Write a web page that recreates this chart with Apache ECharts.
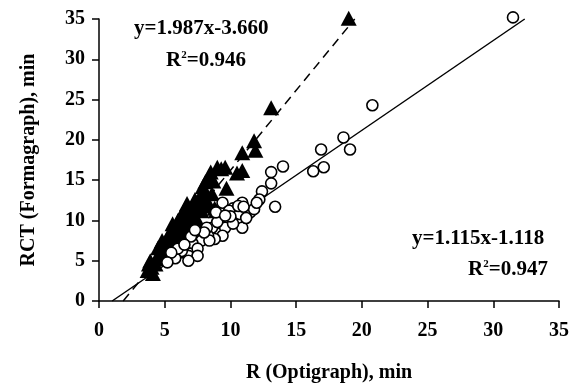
<!DOCTYPE html>
<html>
<head>
<meta charset="utf-8">
<script src="https://cdn.jsdelivr.net/npm/echarts@6/dist/echarts.min.js"></script>
<style>
  html, body { margin: 0; padding: 0; background: #fff; }
  #chart { width: 578px; height: 384px; }
</style>
</head>
<body>
<div id="chart"></div>
<script>
// Formagraph RCT vs Optigraph R, two sample groups
var circlePoints = [
  [31.5, 35.2], [20.8, 24.3], [18.6, 20.3], [19.1, 18.8], [16.9, 18.8], [17.1, 16.6],
  [16.3, 16.1], [14.0, 16.7], [13.1, 16.0], [13.1, 14.6], [12.4, 13.6], [12.2, 12.6],
  [13.4, 11.7], [10.9, 12.2], [11.5, 11.0], [10.2, 11.5], [9.4, 12.2], [10.5, 10.2],
  [10.9, 9.1], [9.6, 9.1], [9.4, 8.1], [8.8, 7.7], [9.2, 10.3], [9.9, 11.2],
  [10.7, 10.8], [10.6, 11.8], [10.2, 9.6], [8.6, 9.1], [8.3, 8.1], [7.8, 7.5],
  [7.1, 7.2], [7.5, 6.5], [6.8, 5.6], [7.5, 5.6], [6.8, 5.0], [6.3, 6.2],
  [8.4, 7.5], [8.2, 9.1], [5.8, 5.3], [6.0, 6.5], [7.0, 8.0], [8.0, 8.5],
  [9.0, 9.8], [11.2, 10.3], [11.8, 11.4], [10.0, 10.5], [6.5, 7.0], [5.5, 6.0],
  [7.3, 8.8], [8.9, 11.0], [9.6, 10.6], [11.0, 11.7], [12.0, 12.2], [5.2, 4.8]
];
var trianglePoints = [
  [19.0, 35.1], [13.1, 24.0], [11.8, 19.9], [10.9, 18.4], [11.9, 18.7], [9.3, 16.4],
  [10.9, 16.2], [10.5, 15.9], [9.0, 16.6], [8.4, 15.6], [8.7, 14.9], [8.6, 13.3],
  [8.9, 11.2], [8.2, 12.5], [8.8, 11.5], [7.8, 11.2], [7.5, 12.1], [6.7, 12.1],
  [7.1, 9.6], [5.6, 9.6], [5.2, 7.9], [4.5, 6.6], [3.9, 5.0], [4.1, 3.4],
  [3.7, 3.8], [7.0, 11.0], [6.2, 10.5], [6.0, 9.0], [5.8, 8.0], [4.8, 7.5],
  [4.6, 5.8], [5.0, 6.0], [5.5, 7.0], [6.5, 8.5], [7.5, 10.0], [6.8, 9.8],
  [8.0, 13.5], [7.9, 14.2], [6.4, 11.0], [4.3, 4.6], [5.3, 5.6], [6.1, 6.4],
  [6.6, 7.4], [7.2, 8.5], [5.9, 6.2], [4.9, 5.2], [6.3, 7.0], [8.3, 11.8],
  [7.6, 11.8], [9.7, 14.0], [4.4, 5.4], [5.1, 6.8], [5.7, 8.6], [6.0, 10.0],
  [6.9, 10.6], [7.3, 12.6], [7.7, 13.0], [8.1, 14.8], [5.4, 8.4], [4.7, 7.0],
  [6.4, 9.2], [7.0, 9.0], [6.2, 7.8], [5.6, 6.5], [4.0, 4.2], [3.8, 4.6],
  [8.5, 16.0], [9.6, 16.6], [7.4, 11.4], [6.6, 11.6]
];
// regression fits: [slope, intercept]
var fitTriangles = [1.987, -3.660];
var fitCircles = [1.115, -1.118];
var axisTicks = [0, 5, 10, 15, 20, 25, 30, 35];

function fitLine(fit, yTop) {
  var x0 = -fit[1] / fit[0];
  var x1 = (yTop - fit[1]) / fit[0];
  return [[x0, 0], [x1, yTop]];
}

var font = 'Liberation Serif';
var chart = echarts.init(document.getElementById('chart'));

var axisCommon = {
  type: 'value',
  min: axisTicks[0],
  max: axisTicks[axisTicks.length - 1],
  interval: 5,
  splitLine: { show: false },
  axisLine: { show: true, lineStyle: { color: '#000', width: 1.5 } },
  axisTick: { show: true, inside: false, length: 7, lineStyle: { color: '#000', width: 1.5 } },
  axisLabel: { color: '#000', fontFamily: font, fontSize: 20, fontWeight: 'bold' },
  nameLocation: 'middle',
  nameTextStyle: { color: '#000', fontFamily: font, fontSize: 20, fontWeight: 'bold' }
};

var option = {
  backgroundColor: '#fff',
  animation: false,
  grid: { left: 99, right: 19, top: 19, bottom: 83, outerBoundsMode: 'none', containLabel: false },
  xAxis: Object.assign({}, axisCommon, {
    name: 'R (Optigraph), min',
    nameGap: 62,
    axisLabel: Object.assign({}, axisCommon.axisLabel, { margin: 20 })
  }),
  yAxis: Object.assign({}, axisCommon, {
    name: 'RCT (Formagraph), min',
    nameGap: 60,
    axisLabel: Object.assign({}, axisCommon.axisLabel, { margin: 14 })
  }),
  series: [
    {
      type: 'line',
      data: fitLine(fitCircles, 35),
      showSymbol: false,
      clip: false,
      lineStyle: { color: '#000', width: 1.5 },
      z: 1
    },
    {
      type: 'line',
      data: fitLine(fitTriangles, 35),
      showSymbol: false,
      clip: false,
      lineStyle: { color: '#000', width: 1.5, type: [9, 6] },
      z: 1
    },
    {
      type: 'scatter',
      data: trianglePoints,
      symbol: 'triangle',
      symbolSize: [16, 15],
      clip: false,
      itemStyle: { color: '#000', opacity: 1 },
      z: 2
    },
    {
      type: 'scatter',
      data: circlePoints,
      symbol: 'circle',
      symbolSize: 11,
      clip: false,
      itemStyle: { color: '#fff', borderColor: '#000', borderWidth: 1.6, opacity: 1 },
      z: 3
    }
  ],
  graphic: [
    {
      type: 'text', left: 134, top: 18,
      style: { text: 'y=1.987x-3.660', font: 'bold 21px "Liberation Serif"', fill: '#000' }
    },
    {
      type: 'text', left: 166, top: 50,
      style: {
        text: '{a|R}{s|2}{a|=0.946}',
        rich: {
          a: { fontFamily: font, fontSize: 21, fontWeight: 'bold', fill: '#000' },
          s: { fontFamily: font, fontSize: 11, fontWeight: 'bold', fill: '#000', verticalAlign: 'top', padding: [0, 0, 8, 0] }
        }
      }
    },
    {
      type: 'text', left: 412, top: 228,
      style: { text: 'y=1.115x-1.118', font: 'bold 21px "Liberation Serif"', fill: '#000' }
    },
    {
      type: 'text', left: 468, top: 259,
      style: {
        text: '{a|R}{s|2}{a|=0.947}',
        rich: {
          a: { fontFamily: font, fontSize: 21, fontWeight: 'bold', fill: '#000' },
          s: { fontFamily: font, fontSize: 11, fontWeight: 'bold', fill: '#000', verticalAlign: 'top', padding: [0, 0, 8, 0] }
        }
      }
    }
  ]
};

chart.setOption(option);
</script>
</body>
</html>
